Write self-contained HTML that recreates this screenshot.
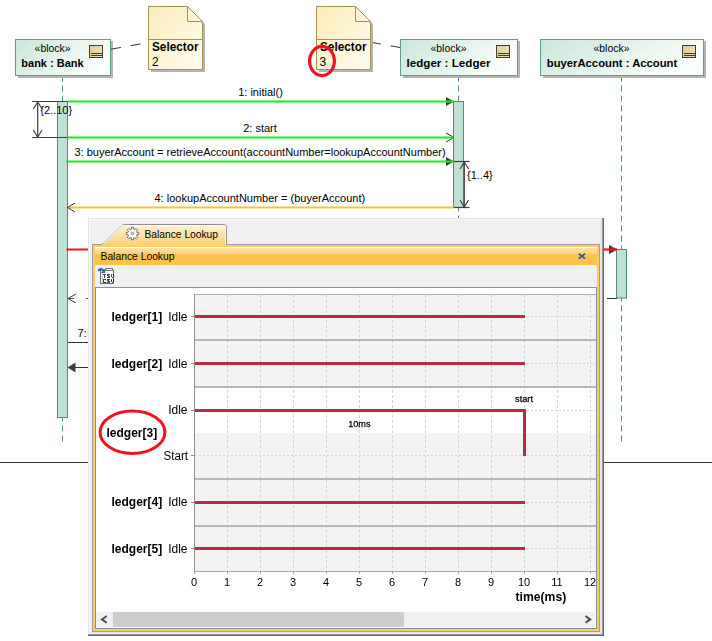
<!DOCTYPE html>
<html>
<head>
<meta charset="utf-8">
<title>Balance Lookup</title>
<style>
html,body{margin:0;padding:0;background:#fff;}
body{width:712px;height:641px;overflow:hidden;position:relative;font-family:"Liberation Sans",sans-serif;}
svg{position:absolute;left:0;top:0;display:block;}
text{font-family:"Liberation Sans",sans-serif;fill:#000;}
.b{font-weight:bold;}
</style>
</head>
<body>
<svg width="712" height="641" viewBox="0 0 712 641">
<defs>
  <linearGradient id="gBlock" x1="0" y1="0" x2="1" y2="0.4">
    <stop offset="0" stop-color="#c9e6d9"/>
    <stop offset="1" stop-color="#fbfefc"/>
  </linearGradient>
  <linearGradient id="gNote" x1="0" y1="0" x2="1" y2="1">
    <stop offset="0" stop-color="#fcebb8"/>
    <stop offset="1" stop-color="#fffdf2"/>
  </linearGradient>
  <linearGradient id="gIcon" x1="0" y1="0" x2="1" y2="0">
    <stop offset="0" stop-color="#e9d79f"/>
    <stop offset="0.15" stop-color="#e2cf98"/>
    <stop offset="1" stop-color="#ecdfb8"/>
  </linearGradient>
  <linearGradient id="gTab" x1="0" y1="0" x2="0" y2="1">
    <stop offset="0" stop-color="#fef3d6"/>
    <stop offset="1" stop-color="#fbd07a"/>
  </linearGradient>
  <linearGradient id="gTitle" x1="0" y1="0" x2="0" y2="1">
    <stop offset="0" stop-color="#fee4a8"/>
    <stop offset="1" stop-color="#fdd07a"/>
  </linearGradient>
  <filter id="noop" x="0" y="0" width="712" height="641" filterUnits="userSpaceOnUse"><feOffset dx="0" dy="0"/></filter>
</defs>

<!-- ============ SEQUENCE DIAGRAM (background) ============ -->
<g id="seq">
  <!-- lifelines -->
  <g stroke="#4f8f74" stroke-width="1" stroke-dasharray="6 4" fill="none">
    <line x1="62.5" y1="75.5" x2="62.5" y2="442"/>
    <line x1="458.5" y1="75.5" x2="458.5" y2="220"/>
    <line x1="621.5" y1="75.5" x2="621.5" y2="442"/>
  </g>

  <!-- block: bank -->
  <rect x="18" y="41" width="95" height="37" fill="#b4b4b4"/>
  <rect x="15.5" y="39.5" width="95" height="36" fill="url(#gBlock)" stroke="#5f9f84"/>
  <rect x="88.5" y="44.5" width="15" height="14" fill="none" stroke="#ffffff" stroke-opacity="0.75"/>
  <rect x="89.5" y="45.5" width="13" height="12" fill="url(#gIcon)" stroke="#3c3c3c"/>
  <line x1="91.0" y1="53.5" x2="102.0" y2="53.5" stroke="#3c3c3c"/>
  <line x1="91.0" y1="55.5" x2="102.0" y2="55.5" stroke="#3c3c3c"/>
  <text x="52.6" y="52" font-size="11" text-anchor="middle" textLength="36" lengthAdjust="spacingAndGlyphs">«block»</text>
  <text x="52.5" y="67" font-size="11" class="b" text-anchor="middle">bank : Bank</text>

  <!-- block: ledger -->
  <rect x="403" y="41" width="117" height="37" fill="#b4b4b4"/>
  <rect x="400.5" y="39.5" width="117" height="36" fill="url(#gBlock)" stroke="#5f9f84"/>
  <rect x="495.5" y="44.5" width="15" height="14" fill="none" stroke="#ffffff" stroke-opacity="0.75"/>
  <rect x="496.5" y="45.5" width="13" height="12" fill="url(#gIcon)" stroke="#3c3c3c"/>
  <line x1="498.0" y1="53.5" x2="509.0" y2="53.5" stroke="#3c3c3c"/>
  <line x1="498.0" y1="55.5" x2="509.0" y2="55.5" stroke="#3c3c3c"/>
  <text x="448.5" y="52" font-size="11" text-anchor="middle" textLength="36" lengthAdjust="spacingAndGlyphs">«block»</text>
  <text x="448.5" y="67" font-size="11" class="b" text-anchor="middle" textLength="84" lengthAdjust="spacingAndGlyphs">ledger : Ledger</text>

  <!-- block: buyerAccount -->
  <rect x="543" y="41" width="163" height="37" fill="#b4b4b4"/>
  <rect x="540.5" y="39.5" width="163" height="36" fill="url(#gBlock)" stroke="#5f9f84"/>
  <rect x="681.5" y="44.5" width="15" height="14" fill="none" stroke="#ffffff" stroke-opacity="0.75"/>
  <rect x="682.5" y="45.5" width="13" height="12" fill="url(#gIcon)" stroke="#3c3c3c"/>
  <line x1="684.0" y1="53.5" x2="695.0" y2="53.5" stroke="#3c3c3c"/>
  <line x1="684.0" y1="55.5" x2="695.0" y2="55.5" stroke="#3c3c3c"/>
  <text x="611.5" y="52" font-size="11" text-anchor="middle" textLength="36" lengthAdjust="spacingAndGlyphs">«block»</text>
  <text x="612" y="67" font-size="11" class="b" text-anchor="middle" textLength="130.500" lengthAdjust="spacingAndGlyphs">buyerAccount : Account</text>

  <!-- note links -->
  <line x1="111" y1="49.2" x2="148" y2="42.6" stroke="#333" stroke-dasharray="10 10"/>
  <line x1="371" y1="42.3" x2="400" y2="47.5" stroke="#333" stroke-dasharray="10 10"/>

  <!-- note 1 -->
  <path d="M151 9 H190 L205 24 V72 H151 Z" fill="#b4b4b4"/>
  <path d="M148.500 6.500 H187.500 L202.500 21.500 V69.500 H148.500 Z" fill="url(#gNote)" stroke="#a8924f"/>
  <path d="M187.500 6.500 V21.500 H202.500" fill="none" stroke="#a8924f"/>
  <line x1="149" y1="39.500" x2="202" y2="39.500" stroke="#a8924f"/>
  <text x="152" y="51" font-size="12" class="b" textLength="46.500" lengthAdjust="spacingAndGlyphs">Selector</text>
  <text x="152" y="66" font-size="12">2</text>

  <!-- note 2 -->
  <path d="M319 9 H358 L373 24 V72 H319 Z" fill="#b4b4b4"/>
  <path d="M316.500 6.500 H355.500 L370.500 21.500 V69.500 H316.500 Z" fill="url(#gNote)" stroke="#a8924f"/>
  <path d="M355.500 6.500 V21.500 H370.500" fill="none" stroke="#a8924f"/>
  <line x1="317" y1="39.500" x2="370" y2="39.500" stroke="#a8924f"/>
  <text x="320" y="51" font-size="12" class="b" textLength="46.500" lengthAdjust="spacingAndGlyphs">Selector</text>
  <text x="319.500" y="66" font-size="12">3</text>
  <ellipse cx="322" cy="61" rx="12.400" ry="14.600" fill="none" stroke="#f2121e" stroke-width="3.200"/>

  <!-- activation bars -->
  <rect x="57.500" y="101.500" width="10" height="316" fill="#c0e0d3" stroke="#4f8f74"/>
  <rect x="453.500" y="101.500" width="10" height="106" fill="#c0e0d3" stroke="#4f8f74"/>
  <rect x="616.500" y="249.500" width="10" height="48.500" fill="#c0e0d3" stroke="#4f8f74"/>

  <!-- duration constraint {2..10} -->
  <g stroke="#404040" fill="none" stroke-width="1.2">
    <line x1="32" y1="101.500" x2="67" y2="101.500"/>
    <line x1="32" y1="137.500" x2="67" y2="137.500"/>
    <line x1="37.700" y1="102" x2="37.700" y2="137"/>
    <path d="M33.400 109 L37.700 101.800 L42 109"/>
    <path d="M33.400 130 L37.700 137.200 L42 130"/>
  </g>
  <text x="40.300" y="114" font-size="11">{2..10}</text>

  <!-- duration constraint {1..4} -->
  <g stroke="#404040" fill="none" stroke-width="1.200">
    <line x1="454" y1="161.500" x2="469.500" y2="161.500"/>
    <line x1="454" y1="207.500" x2="469.500" y2="207.500"/>
    <line x1="464.300" y1="162" x2="464.300" y2="207"/>
    <path d="M460 169 L464.300 161.800 L468.600 169"/>
    <path d="M460 200 L464.300 207.200 L468.600 200"/>
  </g>
  <text x="467" y="179" font-size="11">{1..4}</text>

  <!-- messages -->
  <path d="M446 97 L454 101.500 L446 106 Z" fill="#3c3c3c"/>
  <line x1="67.500" y1="101.500" x2="453.500" y2="101.500" stroke="#14ee14" stroke-width="2.200"/>
  <text x="260.500" y="96" font-size="11" text-anchor="middle">1: initial()</text>

  <path d="M446 133 L454 137.500 L446 142" fill="none" stroke="#3c3c3c"/>
  <line x1="67.500" y1="137.500" x2="453.500" y2="137.500" stroke="#14ee14" stroke-width="2.200"/>
  <text x="260" y="132" font-size="11" text-anchor="middle">2: start</text>

  <path d="M446 157 L454 161.500 L446 166 Z" fill="#3c3c3c"/>
  <line x1="66" y1="161.500" x2="453.500" y2="161.500" stroke="#14ee14" stroke-width="2.200"/>
  <text x="74.500" y="155.500" font-size="11">3: buyerAccount = retrieveAccount(accountNumber=lookupAccountNumber)</text>

  <line x1="68" y1="207.500" x2="453.500" y2="207.500" stroke="#f8c42e" stroke-width="2.200"/>
  <path d="M75 203 L67.500 207.500 L75 212" fill="none" stroke="#3c3c3c"/>
  <text x="154.500" y="201.500" font-size="11">4: lookupAccountNumber = (buyerAccount)</text>

  <!-- message 5 (red) -->
  <line x1="66.500" y1="249.500" x2="100" y2="249.500" stroke="#f2121e" stroke-width="2.200"/>
  <path d="M609 245 L617.500 249.500 L609 254 Z" fill="#3c3c3c"/>
  <line x1="604" y1="249.500" x2="617" y2="249.500" stroke="#f2121e" stroke-width="2.200"/>
  <line x1="607" y1="298.500" x2="617" y2="298.500" stroke="#333"/>

  <!-- message 6 reply -->
  <line x1="68" y1="298.500" x2="95" y2="298.500" stroke="#555" stroke-dasharray="6 12"/>
  <path d="M76 294 L68 298.500 L76 303" fill="none" stroke="#3c3c3c"/>

  <!-- message 7 -->
  <text x="77.500" y="337" font-size="11">7:</text>
  <line x1="68" y1="342.500" x2="95" y2="342.500" stroke="#333"/>

  <!-- message 8 -->
  <line x1="72" y1="367.500" x2="95" y2="367.500" stroke="#333"/>
  <path d="M75.500 362.500 L67.500 367.500 L75.500 372.500 Z" fill="#3c3c3c"/>

  <!-- frame bottom line -->
  <line x1="0" y1="462.500" x2="712" y2="462.500" stroke="#333"/>
</g>

<!-- ============ PANEL ============ -->
<g id="panel">
  <!-- outer -->
  <rect x="88" y="218" width="516" height="418" fill="#686868"/>
  <rect x="88" y="218" width="515" height="417" fill="#9c9c9c"/>
  <rect x="88" y="218" width="514" height="416" fill="#e3e3e3"/>
  <rect x="89" y="219" width="513" height="415" fill="#fafafa"/>
  <rect x="90" y="220" width="512" height="414" fill="#e6e6e6"/>
  <rect x="90" y="220" width="510" height="412" fill="#f0f0f0"/>

  <!-- tab -->
  <path d="M101.500 244.500 L104 243.500 L122 225.500 Q123 224.500 125 224.500 H223.500 Q226.500 224.500 226.500 227.500 V244.500 Z" fill="url(#gTab)" stroke="#8e8e8e"/>
  <path d="M104.500 243.500 L122.400 225.600 Q123 225.500 125 225.500 H223.500 Q225.500 225.500 225.500 227.500 V244" fill="none" stroke="#ffffff" stroke-opacity="0.85"/>
  <!-- tab icon -->
  <g transform="translate(132.500,233.500)">
    <path d="M-1.16 -4.35 L-1.09 -6.20 L1.09 -6.20 L1.16 -4.35 L2.25 -3.90 L3.61 -5.16 L5.16 -3.61 L3.90 -2.25 L4.35 -1.16 L6.20 -1.09 L6.20 1.09 L4.35 1.16 L3.90 2.25 L5.16 3.61 L3.61 5.16 L2.25 3.90 L1.16 4.35 L1.09 6.20 L-1.09 6.20 L-1.16 4.35 L-2.25 3.90 L-3.61 5.16 L-5.16 3.61 L-3.90 2.25 L-4.35 1.16 L-6.20 1.09 L-6.20 -1.09 L-4.35 -1.16 L-3.90 -2.25 L-5.16 -3.61 L-3.61 -5.16 L-2.25 -3.90 Z" fill="#ffffff" stroke="#5a6068" stroke-width="0.9" stroke-linejoin="round"/>
    <path d="M0 -1.600 L1.600 0 L0 1.600 L-1.600 0 Z" fill="#f5d060" stroke="#5a6068" stroke-width="0.7"/>
  </g>
  <text x="144.500" y="237.500" font-size="10.500" textLength="73.500" lengthAdjust="spacingAndGlyphs">Balance Lookup</text>

  <!-- frame (orange) -->
  <rect x="92.500" y="244.500" width="507" height="387" fill="#fccb66" stroke="#9a9ea8"/>
  <rect x="102" y="244" width="124" height="2" fill="#fbd07a"/>
    <!-- title bar -->
  <rect x="95" y="247" width="502" height="1" fill="#fffdf6"/>
  <rect x="95" y="248" width="502" height="6" fill="url(#gTitle)"/>
  <rect x="95" y="254" width="502" height="11" fill="#fdc24e"/>
  <rect x="95" y="265" width="502" height="1" fill="#ebf0f7"/>
  <text x="100.500" y="259.500" font-size="10.500" textLength="74" lengthAdjust="spacingAndGlyphs">Balance Lookup</text>
  <path d="M578.700 253.600 L585 258.600 M585 253.600 L578.700 258.600" stroke="#1c56a0" stroke-width="1.600" fill="none"/>
  <!-- toolbar -->
  <rect x="95" y="266" width="502" height="21.500" fill="#f0f0f0"/>
  <!-- toolbar icon -->
  <g>
    <rect x="105.500" y="268.500" width="7" height="5" fill="#ffffff" stroke="#7a7a7a"/>
    <rect x="100.500" y="270.500" width="13" height="13" fill="#ffffff" stroke="#707070"/>
    <rect x="106" y="270" width="7" height="1" fill="#8a8a8a"/>
    <rect x="102" y="274" width="1" height="9" fill="#c4c4c4"/>
    <path d="M103 274h1v1h-1zM104 274h1v1h-1zM105 274h1v1h-1zM104 275h1v1h-1zM104 276h1v1h-1zM104 277h1v1h-1zM107 274h1v1h-1zM108 274h1v1h-1zM109 274h1v1h-1zM107 275h1v1h-1zM108 275h1v1h-1zM108 276h1v1h-1zM109 276h1v1h-1zM107 277h1v1h-1zM108 277h1v1h-1zM109 277h1v1h-1zM111 274h1v1h-1zM113 274h1v1h-1zM111 275h1v1h-1zM113 275h1v1h-1zM111 276h1v1h-1zM113 276h1v1h-1zM112 277h1v1h-1zM103 279h1v1h-1zM104 279h1v1h-1zM105 279h1v1h-1zM103 280h1v1h-1zM103 281h1v1h-1zM103 282h1v1h-1zM104 282h1v1h-1zM105 282h1v1h-1zM107 279h1v1h-1zM108 279h1v1h-1zM109 279h1v1h-1zM107 280h1v1h-1zM108 280h1v1h-1zM108 281h1v1h-1zM109 281h1v1h-1zM107 282h1v1h-1zM108 282h1v1h-1zM109 282h1v1h-1zM111 279h1v1h-1zM113 279h1v1h-1zM111 280h1v1h-1zM113 280h1v1h-1zM111 281h1v1h-1zM113 281h1v1h-1zM112 282h1v1h-1z" fill="#202020" fill-opacity="0.82"/>
    <path d="M98.800 271.200 Q98.600 268.600 101.800 269.200 Q103.400 269.600 103.600 271" fill="none" stroke="#1f6cb9" stroke-width="2"/>
    <path d="M105.200 268.800 V273 H100.800 Z" fill="#1f6cb9"/>
  </g>
  <!-- content -->
  <rect x="95.500" y="287.500" width="501" height="341" fill="#fff" stroke="#8690a2"/>
</g>

<!-- ============ CHART ============ -->
<g id="chart" filter="url(#noop)">
<rect x="194" y="294" width="402" height="278" fill="#f3f3f3"/>
<rect x="195" y="388" width="401" height="45" fill="#ffffff"/>
<line x1="227.5" y1="295" x2="227.5" y2="571" stroke="#d6d6d6" stroke-dasharray="3 2"/>
<line x1="260.5" y1="295" x2="260.5" y2="571" stroke="#d6d6d6" stroke-dasharray="3 2"/>
<line x1="293.5" y1="295" x2="293.5" y2="571" stroke="#d6d6d6" stroke-dasharray="3 2"/>
<line x1="326.5" y1="295" x2="326.5" y2="571" stroke="#d6d6d6" stroke-dasharray="3 2"/>
<line x1="359.5" y1="295" x2="359.5" y2="571" stroke="#d6d6d6" stroke-dasharray="3 2"/>
<line x1="392.5" y1="295" x2="392.5" y2="571" stroke="#d6d6d6" stroke-dasharray="3 2"/>
<line x1="425.5" y1="295" x2="425.5" y2="571" stroke="#d6d6d6" stroke-dasharray="3 2"/>
<line x1="458.5" y1="295" x2="458.5" y2="571" stroke="#d6d6d6" stroke-dasharray="3 2"/>
<line x1="491.5" y1="295" x2="491.5" y2="571" stroke="#d6d6d6" stroke-dasharray="3 2"/>
<line x1="524.5" y1="295" x2="524.5" y2="571" stroke="#d6d6d6" stroke-dasharray="3 2"/>
<line x1="557.5" y1="295" x2="557.5" y2="571" stroke="#d6d6d6" stroke-dasharray="3 2"/>
<line x1="590.5" y1="295" x2="590.5" y2="571" stroke="#d6d6d6" stroke-dasharray="3 2"/>
<line x1="195" y1="316.5" x2="596" y2="316.5" stroke="#d6d6d6" stroke-dasharray="2 2"/>
<line x1="195" y1="363.5" x2="596" y2="363.5" stroke="#d6d6d6" stroke-dasharray="2 2"/>
<line x1="195" y1="410.5" x2="596" y2="410.5" stroke="#d6d6d6" stroke-dasharray="2 2"/>
<line x1="195" y1="455.5" x2="596" y2="455.5" stroke="#d6d6d6" stroke-dasharray="2 2"/>
<line x1="195" y1="502.5" x2="596" y2="502.5" stroke="#d6d6d6" stroke-dasharray="2 2"/>
<line x1="195" y1="548.5" x2="596" y2="548.5" stroke="#d6d6d6" stroke-dasharray="2 2"/>
<rect x="195" y="339" width="401" height="2" fill="#b6b6b6"/>
<rect x="195" y="386" width="401" height="2" fill="#b6b6b6"/>
<rect x="195" y="478" width="401" height="2" fill="#b6b6b6"/>
<rect x="195" y="525" width="401" height="2" fill="#b6b6b6"/>
<line x1="194" y1="294.5" x2="596" y2="294.5" stroke="#b4b4b4"/>
<line x1="194.5" y1="294" x2="194.5" y2="572" stroke="#8e8e8e"/>
<line x1="194" y1="571.5" x2="596" y2="571.5" stroke="#a8a8a8"/>
<line x1="191" y1="316.5" x2="194" y2="316.5" stroke="#8e8e8e"/>
<line x1="191" y1="363.5" x2="194" y2="363.5" stroke="#8e8e8e"/>
<line x1="191" y1="410.5" x2="194" y2="410.5" stroke="#8e8e8e"/>
<line x1="191" y1="455.5" x2="194" y2="455.5" stroke="#8e8e8e"/>
<line x1="191" y1="502.5" x2="194" y2="502.5" stroke="#8e8e8e"/>
<line x1="191" y1="548.5" x2="194" y2="548.5" stroke="#8e8e8e"/>
<line x1="194.5" y1="572" x2="194.5" y2="574" stroke="#a8a8a8"/>
<line x1="227.5" y1="572" x2="227.5" y2="574" stroke="#a8a8a8"/>
<line x1="260.5" y1="572" x2="260.5" y2="574" stroke="#a8a8a8"/>
<line x1="293.5" y1="572" x2="293.5" y2="574" stroke="#a8a8a8"/>
<line x1="326.5" y1="572" x2="326.5" y2="574" stroke="#a8a8a8"/>
<line x1="359.5" y1="572" x2="359.5" y2="574" stroke="#a8a8a8"/>
<line x1="392.5" y1="572" x2="392.5" y2="574" stroke="#a8a8a8"/>
<line x1="425.5" y1="572" x2="425.5" y2="574" stroke="#a8a8a8"/>
<line x1="458.5" y1="572" x2="458.5" y2="574" stroke="#a8a8a8"/>
<line x1="491.5" y1="572" x2="491.5" y2="574" stroke="#a8a8a8"/>
<line x1="524.5" y1="572" x2="524.5" y2="574" stroke="#a8a8a8"/>
<line x1="557.5" y1="572" x2="557.5" y2="574" stroke="#a8a8a8"/>
<line x1="590.5" y1="572" x2="590.5" y2="574" stroke="#a8a8a8"/>
<line x1="195" y1="316.5" x2="525" y2="316.5" stroke="#b82a48" stroke-width="3"/>
<line x1="195" y1="363.5" x2="525" y2="363.5" stroke="#b82a48" stroke-width="3"/>
<line x1="195" y1="502.5" x2="525" y2="502.5" stroke="#b82a48" stroke-width="3"/>
<line x1="195" y1="548.5" x2="525" y2="548.5" stroke="#b82a48" stroke-width="3"/>
<path d="M195 410.5 H524.5 V456" fill="none" stroke="#b82a48" stroke-width="3"/>
<text x="111.5" y="320.5" font-size="12" class="b">ledger[1]</text>
<text x="187.5" y="320.5" font-size="12" text-anchor="end">Idle</text>
<text x="111.5" y="367.5" font-size="12" class="b">ledger[2]</text>
<text x="187.5" y="367.5" font-size="12" text-anchor="end">Idle</text>
<text x="111.5" y="506" font-size="12" class="b">ledger[4]</text>
<text x="187.5" y="506" font-size="12" text-anchor="end">Idle</text>
<text x="111.5" y="552.5" font-size="12" class="b">ledger[5]</text>
<text x="187.5" y="552.5" font-size="12" text-anchor="end">Idle</text>
<text x="187.5" y="414" font-size="12" text-anchor="end">Idle</text>
<text x="188" y="459.5" font-size="12" text-anchor="end" textLength="24.5" lengthAdjust="spacingAndGlyphs">Start</text>
<text x="106.5" y="437" font-size="12" class="b">ledger[3]</text>
<ellipse cx="132.5" cy="432.3" rx="32.4" ry="21.3" fill="none" stroke="#f2121e" stroke-width="3"/>
<text x="348.2" y="427" font-size="9.5" textLength="22.3" lengthAdjust="spacingAndGlyphs" stroke="#000" stroke-width="0.25">10ms</text>
<text x="515" y="402" font-size="9.5" textLength="18" lengthAdjust="spacingAndGlyphs" stroke="#000" stroke-width="0.25">start</text>
<text x="194" y="586" font-size="11" text-anchor="middle">0</text>
<text x="227" y="586" font-size="11" text-anchor="middle">1</text>
<text x="260" y="586" font-size="11" text-anchor="middle">2</text>
<text x="293" y="586" font-size="11" text-anchor="middle">3</text>
<text x="326" y="586" font-size="11" text-anchor="middle">4</text>
<text x="359" y="586" font-size="11" text-anchor="middle">5</text>
<text x="392" y="586" font-size="11" text-anchor="middle">6</text>
<text x="425" y="586" font-size="11" text-anchor="middle">7</text>
<text x="458" y="586" font-size="11" text-anchor="middle">8</text>
<text x="491" y="586" font-size="11" text-anchor="middle">9</text>
<text x="524" y="586" font-size="11" text-anchor="middle">10</text>
<text x="557" y="586" font-size="11" text-anchor="middle">11</text>
<text x="590" y="586" font-size="11" text-anchor="middle">12</text>
<text x="515.5" y="600.5" font-size="12" class="b" textLength="50.7" lengthAdjust="spacingAndGlyphs">time(ms)</text>
<rect x="596" y="288" width="1" height="341" fill="#8690a2"/>
<rect x="597" y="247" width="2" height="384" fill="#fccb66"/>
<rect x="96" y="612" width="499" height="15" fill="#f0f0f0"/>
<rect x="113" y="612" width="291" height="15" fill="#cdcdcd"/>
<path d="M106.7 616 L102 619.4 L106.7 622.8" fill="none" stroke="#505050" stroke-width="2"/>
<path d="M585.5 616 L590.2 619.4 L585.5 622.8" fill="none" stroke="#505050" stroke-width="2"/>
</g>
</svg>
</body>
</html>
